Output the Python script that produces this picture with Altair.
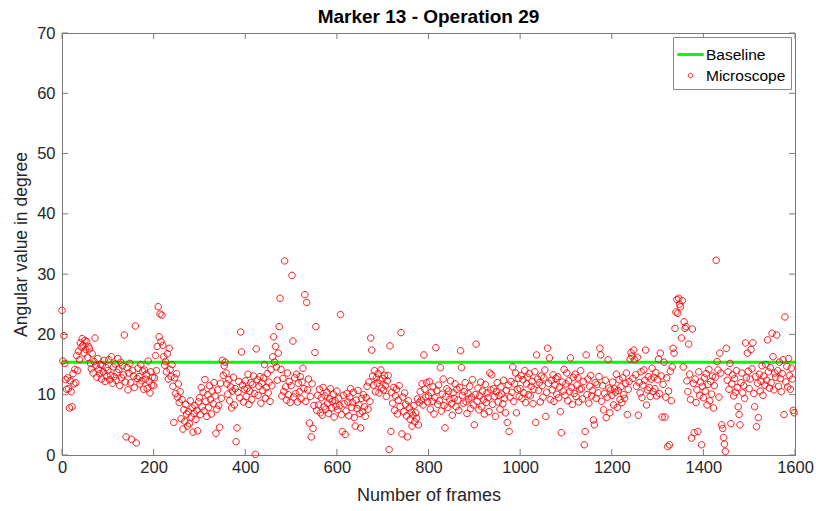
import altair as alt
import pandas as pd

# Microscope readings, one value every 2 frames, 100 frames per list
seg_0000 = [24.0, 15.6, 19.8, 15.2, 12.5, 10.9,
            12.8, 11.0, 7.8, 12.3, 10.5, 8.0, 13.5, 11.8, 14.2, 12.0,
            16.5, 14.0, 17.2, 15.8, 18.6, 17.9, 19.3, 18.2, 16.9, 19.0, 17.5, 18.8, 16.2, 18.0, 17.6,
            15.2, 14.3, 16.8, 13.6, 15.5, 19.4, 14.8, 12.9, 16.0, 14.2, 13.5, 15.0, 12.6, 14.9, 13.8, 15.7, 12.2, 14.5, 13.1]
seg_0100 = [14.0, 15.8, 12.5, 13.2, 16.3, 11.9, 14.6, 13.0, 15.1, 12.4,
            13.7, 16.0, 14.2, 11.5, 15.4, 12.8, 14.8, 13.3, 19.9, 12.1,
            3.0, 14.5, 10.8, 13.6, 15.2, 12.0, 2.6, 14.0, 13.1, 11.2,
            21.4, 2.0, 12.7, 14.4, 13.0, 11.8, 15.0, 12.3, 13.9, 10.9,
            14.1, 12.6, 13.4, 11.0, 15.6, 12.2, 10.3, 13.8, 11.6, 12.9]
seg_0200 = [11.5, 12.8, 16.5, 14.0, 18.0, 24.6, 19.6, 23.4, 18.8, 23.2,
            18.2, 16.3, 14.9, 15.5, 13.8, 16.8, 12.6, 17.7, 14.2, 13.0,
            15.0, 11.4, 5.4, 12.8, 10.2, 13.5, 9.6, 11.8, 8.7, 10.5,
            6.0, 9.2, 4.3, 7.5, 5.6, 8.4, 6.8, 4.8, 7.2, 5.2,
            9.0, 6.3, 7.8, 3.8, 6.9, 8.2, 5.9, 7.4, 4.0, 8.8]
seg_0300 = [9.5, 6.7, 11.2, 8.0, 10.4, 7.3, 12.5, 8.9, 6.4, 10.0,
            7.9, 11.5, 9.2, 6.8, 10.6, 8.5, 12.0, 9.8, 3.6, 7.6,
            10.8, 8.2, 4.6, 11.9, 9.4, 15.7, 13.2, 14.8, 15.4, 13.6,
            11.8, 10.1, 12.5, 9.0, 11.3, 7.8, 10.6, 12.9, 8.3, 11.0,
            2.2, 4.5, 10.4, 12.2, 9.5, 20.4, 17.1, 11.6, 8.8, 10.9]
seg_0400 = [12.3, 9.7, 11.0, 13.4, 8.4, 10.6, 12.0, 9.2, 11.7, 13.1,
            10.2, 0.1, 17.6, 12.5, 9.9, 11.4, 13.0, 8.6, 11.9, 10.7,
            12.8, 15.0, 9.4, 11.2, 13.5, 10.3, 12.1, 8.9, 14.2, 11.5,
            16.3, 19.6, 15.4, 18.0, 14.6, 12.4, 16.9, 21.3, 26.0, 14.2,
            9.8, 12.7, 10.5, 32.2, 11.3, 9.1, 13.6, 10.0, 12.2, 8.7]
seg_0500 = [11.5, 29.8, 18.9, 9.6, 12.8, 10.2, 13.4, 8.8, 11.9, 10.5,
            13.0, 9.3, 12.1, 14.4, 11.0, 26.6, 8.9, 25.3, 10.8, 12.6,
            5.3, 9.7, 3.0, 11.8, 4.4, 8.2, 17.0, 21.3, 7.4, 9.9,
            8.3, 10.9, 7.0, 9.5, 6.6, 11.2, 8.0, 9.8, 7.6, 10.4,
            8.6, 6.9, 9.3, 11.0, 7.8, 8.9, 10.1, 6.3, 9.0, 8.1]
seg_0600 = [10.6, 7.5, 9.4, 8.2, 23.3, 6.7, 3.9, 9.9, 8.5, 3.4,
            7.3, 10.2, 8.8, 6.5, 9.6, 11.0, 7.9, 8.7, 10.4, 6.2,
            4.8, 9.1, 7.7, 10.7, 8.3, 6.9, 4.5, 9.4, 7.2, 10.0,
            8.0, 6.4, 9.5, 11.4, 7.6, 12.1, 8.9, 19.4, 17.4, 13.1,
            11.6, 14.0, 10.5, 12.8, 11.9, 13.5, 10.3, 12.4, 14.1, 11.1]
seg_0700 = [12.7, 10.8, 13.2, 11.5, 9.7, 12.3, 13.2, 0.9, 18.1, 3.9,
            10.4, 8.6, 11.2, 7.4, 9.8, 10.9, 6.8, 9.1, 11.5, 8.0,
            20.3, 3.5, 9.6, 7.2, 10.3, 8.4, 6.5, 3.0, 9.0, 7.8,
            5.9, 7.1, 4.8, 6.6, 8.2, 5.5, 7.0, 6.1, 9.3, 5.0,
            8.7, 10.5, 9.1, 11.8, 8.3, 16.6, 10.9, 9.6, 12.0, 8.8]
seg_0800 = [9.8, 12.2, 7.6, 10.4, 8.9, 11.3, 6.8, 9.5, 17.8, 10.7,
            8.4, 11.6, 9.0, 14.5, 7.3, 10.1, 12.6, 8.2, 4.5, 9.7,
            11.0, 7.9, 10.6, 9.2, 12.3, 8.5, 6.6, 10.3, 9.4, 11.8,
            8.0, 10.9, 9.1, 7.4, 11.2, 17.3, 14.5, 9.9, 8.6, 10.5,
            12.0, 8.8, 6.9, 10.2, 9.3, 11.4, 7.7, 9.6, 12.5, 8.3]
seg_0900 = [5.0, 10.0, 18.4, 8.9, 11.1, 7.5, 9.8, 12.1, 8.0, 10.6,
            9.2, 6.8, 11.7, 8.7, 10.3, 9.5, 7.2, 13.6, 10.8, 13.3,
            8.4, 11.0, 9.7, 6.4, 10.5, 12.0, 8.8, 9.9, 7.6, 11.3,
            10.1, 8.5, 12.4, 9.4, 7.0, 10.7, 5.4, 11.6, 3.9, 9.6,
            12.2, 10.4, 14.6, 8.9, 11.8, 13.6, 7.0, 10.9, 12.7, 9.7]
seg_1000 = [11.0, 13.2, 9.4, 12.5, 10.3, 14.0, 8.7, 11.8, 12.9, 10.0,
            13.5, 9.8, 11.4, 12.2, 8.5, 10.9, 13.8, 5.4, 16.6, 12.6,
            10.7, 12.0, 8.8, 13.1, 11.5, 9.6, 12.8, 14.1, 6.4, 10.4,
            17.7, 11.9, 16.1, 9.2, 12.4, 10.8, 13.3, 8.9, 11.6, 12.7,
            10.1, 13.0, 9.5, 11.3, 7.2, 3.7, 12.1, 10.6, 14.2, 9.9]
seg_1100 = [11.8, 13.6, 9.0, 12.3, 10.5, 16.1, 11.2, 8.4, 12.9, 10.2,
            13.4, 9.7, 11.6, 12.8, 8.8, 10.9, 14.0, 11.0, 9.3, 12.2,
            1.7, 3.9, 16.6, 10.0, 12.6, 8.6, 11.4, 13.2, 9.8, 10.7,
            5.8, 5.0, 12.0, 9.4, 11.7, 10.3, 13.0, 17.7, 16.6, 8.9,
            11.5, 7.5, 10.2, 12.4, 6.2, 9.6, 15.8, 11.1, 7.0, 10.8]
seg_1200 = [9.9, 12.1, 8.3, 11.0, 10.4, 13.4, 7.9, 10.7, 12.5, 9.2,
            11.3, 8.7, 12.8, 10.0, 9.4, 11.9, 13.6, 6.7, 10.9, 12.2,
            15.9, 17.0, 16.4, 12.7, 17.4, 15.8, 13.3, 11.4, 16.2, 6.6,
            12.0, 10.3, 13.8, 9.5, 11.6, 14.1, 12.4, 17.4, 8.3, 10.8,
            13.0, 11.2, 9.7, 12.6, 14.4, 10.5, 12.9, 11.0, 13.7, 9.8]
seg_1300 = [12.5, 15.9, 10.2, 16.9, 13.1, 6.3, 11.7, 15.4, 6.3, 9.6,
            12.8, 1.4, 10.6, 1.7, 13.9, 9.0, 14.6, 17.7, 16.9, 21.0,
            23.7, 25.8, 23.5, 26.0, 25.0, 24.6, 19.4, 25.6, 14.6, 22.1,
            21.0, 21.3, 12.3, 10.5, 18.4, 13.4, 9.2, 2.8, 20.9, 11.9,
            3.7, 12.6, 8.7, 10.8, 3.9, 13.8, 9.9, 12.1, 1.7, 11.4]
seg_1400 = [9.5, 12.8, 10.6, 13.5, 8.3, 11.7, 14.2, 9.0, 12.2, 10.1,
            13.1, 7.8, 11.5, 12.9, 32.3, 15.5, 14.1, 9.6, 16.9, 13.6,
            5.0, 4.4, 2.9, 1.8, 0.6, 17.7, 12.4, 13.8, 10.9, 15.2,
            5.2, 11.8, 13.3, 9.8, 12.7, 10.4, 14.0, 11.2, 8.0, 6.7,
            5.0, 12.0, 13.6, 10.3, 11.5, 9.4, 18.6, 12.8, 16.9, 13.9]
seg_1500 = [11.0, 12.6, 17.5, 14.3, 18.6, 10.2, 8.0, 13.0, 4.7, 11.9,
            6.2, 13.4, 10.6, 12.2, 14.8, 9.9, 13.1, 11.6, 15.0, 12.4,
            19.1, 13.8, 11.1, 14.5, 12.0, 20.2, 16.3, 10.8, 13.6, 12.9,
            19.9, 14.0, 11.4, 15.4, 12.7, 10.5, 13.5, 15.8, 6.7, 22.9,
            12.1, 14.7, 11.3, 16.0, 13.2, 10.9, 14.4, 12.6, 7.4, 7.0]

microscope = (seg_0000 + seg_0100 + seg_0200 + seg_0300 + seg_0400 + seg_0500 +
              seg_0600 + seg_0700 + seg_0800 + seg_0900 + seg_1000 + seg_1100 +
              seg_1200 + seg_1300 + seg_1400 + seg_1500)
frames = list(range(0, 2 * len(microscope), 2))

baseline_x = [0, 1600]
baseline_y = [15.4, 15.4]

x_ticks = [0, 200, 400, 600, 800, 1000, 1200, 1400, 1600]
y_ticks = [0, 10, 20, 30, 40, 50, 60, 70]
series_names = ["Baseline", "Microscope"]

FONT = "Liberation Sans"
AX = "#262626"
LINE_PATH = "M-1.2,0L1.2,0"
CIRCLE_PATH = "M0,-0.2A0.2,0.2 0 1,1 0,0.2A0.2,0.2 0 1,1 0,-0.2Z"

pts = pd.DataFrame({"frame": frames, "angle": microscope, "series": "Microscope"})
base = pd.DataFrame({"frame": baseline_x, "angle": baseline_y, "series": "Baseline"})

xs = alt.Scale(domain=[0, 1600], nice=False, zero=False)
ys = alt.Scale(domain=[0, 70], nice=False)

x_axis = alt.Axis(values=x_ticks, format="d", grid=False, ticks=False, labelFont=FONT,
                  labelFontSize=16.5, labelColor=AX, titleFont=FONT, titleFontSize=18,
                  titleFontWeight="normal", titleColor=AX, labelPadding=4, titlePadding=11,
                  domainColor="#7a7a7a", labelFlush=False)
y_axis = alt.Axis(values=y_ticks, format="d", grid=False, ticks=False, labelFont=FONT,
                  labelFontSize=16.5, labelColor=AX, titleFont=FONT, titleFontSize=17.5,
                  titleFontWeight="normal", titleColor=AX, labelPadding=7, titlePadding=6,
                  domainColor="#7a7a7a", labelFlush=False)

legend = alt.Legend(title=None, orient="top-right", offset=4, padding=5,
                    strokeColor="#8a8a8a", fillColor="white", labelFont=FONT,
                    labelFontSize=15.5, labelColor="#000000", symbolSize=480,
                    rowPadding=1, labelOffset=3)

color = alt.Color("series:N", scale=alt.Scale(domain=series_names, range=["#00ff00", "#ff0000"]),
                  legend=legend)
shape = alt.Shape("series:N", scale=alt.Scale(domain=series_names, range=[LINE_PATH, CIRCLE_PATH]),
                  legend=legend)
swidth = alt.StrokeWidth("series:N", scale=alt.Scale(domain=series_names, range=[3, 0.9]),
                         legend=legend)

line = alt.Chart(base).mark_line().encode(
    x=alt.X("frame:Q", scale=xs, axis=x_axis, title="Number of frames"),
    y=alt.Y("angle:Q", scale=ys, axis=y_axis, title="Angular value in degree"),
    color=color, strokeWidth=swidth,
)

points = alt.Chart(pts).mark_point(filled=False, size=1050, opacity=1).encode(
    x=alt.X("frame:Q", scale=xs),
    y=alt.Y("angle:Q", scale=ys),
    color=color, shape=shape, strokeWidth=swidth,
)

# inward tick marks (MATLAB style), placed through the scales
tick_x = pd.DataFrame({"t": x_ticks})
tick_y = pd.DataFrame({"t": y_ticks})
tick_style = dict(color="#7a7a7a", strokeWidth=1)
xt_bottom = alt.Chart(tick_x).mark_rule(**tick_style).encode(
    x=alt.X("t:Q", scale=xs), y=alt.YValue(422), y2=alt.Y2Value(416))
xt_top = alt.Chart(tick_x).mark_rule(**tick_style).encode(
    x=alt.X("t:Q", scale=xs), y=alt.YValue(0), y2=alt.Y2Value(6))
yt_left = alt.Chart(tick_y).mark_rule(**tick_style).encode(
    y=alt.Y("t:Q", scale=ys), x=alt.XValue(0), x2=alt.X2Value(6))
yt_right = alt.Chart(tick_y).mark_rule(**tick_style).encode(
    y=alt.Y("t:Q", scale=ys), x=alt.XValue(733), x2=alt.X2Value(727))

chart = alt.layer(line, points, xt_bottom, xt_top, yt_left, yt_right).properties(
    width=733, height=422,
    title=alt.TitleParams("Marker 13 - Operation 29", font=FONT, fontSize=19,
                          fontWeight="bold", color="#000000", offset=-2),
    padding={"left": 62, "top": 33, "right": 21, "bottom": 56},
    autosize=alt.AutoSizeParams(type="none"),
    background="white",
).configure_view(stroke="#7a7a7a", strokeWidth=1).resolve_scale(
    color="shared", shape="shared", strokeWidth="shared")

chart.save("out.html", embed_options={"renderer": "svg", "actions": False})
